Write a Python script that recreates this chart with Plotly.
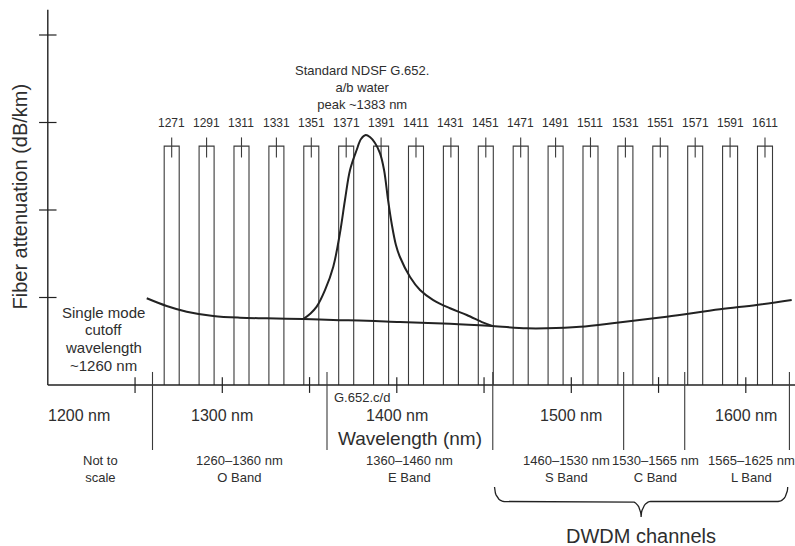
import numpy as np
import plotly.graph_objects as go

# ---------------- data ----------------
CHANNELS_NM = [1271, 1291, 1311, 1331, 1351, 1371, 1391, 1411, 1431, 1451,
               1471, 1491, 1511, 1531, 1551, 1571, 1591, 1611]
CHANNEL_HALF_WIDTH_NM = 4.3
CHANNEL_TOP = 2.73
CHANNEL_MARK = [2.6, 2.83]
CHANNEL_LABEL_Y = 2.99

# base attenuation curve (low-water-peak fibre, G.652.c/d)
BASE_WL = [1256.7, 1268.1, 1279.6, 1294.8, 1310.1, 1325.4, 1346.4, 1363.6,
           1382.8, 1401.8, 1430.5, 1454.7, 1474.4, 1485.9, 1505.0, 1526.0,
           1554.7, 1585.2, 1606.2, 1626.3]
BASE_ATT = [0.991, 0.903, 0.838, 0.789, 0.769, 0.762, 0.754, 0.743,
            0.735, 0.720, 0.700, 0.674, 0.648, 0.648, 0.666, 0.712,
            0.781, 0.865, 0.914, 0.971]

# water-peak branch (standard NDSF G.652.a/b)
PEAK_WL = [1346.4, 1350.4, 1354.1, 1358.9, 1363.6, 1367.4, 1370.3, 1373.2, 1377.0,
           1379.5, 1382.2, 1384.6, 1387.5, 1390.4, 1392.7, 1395.0, 1397.2,
           1399.5, 1401.8, 1407.6, 1413.3, 1420.9, 1430.5, 1440.1, 1449.6, 1454.7]
PEAK_ATT = [0.754, 0.815, 0.895, 1.086, 1.352, 1.734, 2.114, 2.457, 2.686,
            2.811, 2.857, 2.834, 2.766, 2.648, 2.457, 2.114, 1.829,
            1.600, 1.463, 1.234, 1.086, 0.971, 0.877, 0.800, 0.712, 0.674]

Y_TICKS = [1, 2, 3, 4]
Y_AXIS_TOP = 4.29
X_TICKS_NM = [1250, 1300, 1350, 1400, 1450, 1500, 1550, 1600]
X_AXIS_START_NM = 1200

WINDOW_LABELS = ["1200 nm", "1300 nm", "1400 nm", "1500 nm", "1600 nm"]
WINDOW_LABEL_NM = [1218, 1300, 1400, 1500, 1600]

BAND_EDGES_NM = [1260, 1360, 1455, 1530, 1565, 1625]
BAND_TEXT = ["Not to<br>scale", "1260–1360 nm<br>O Band", "1360–1460 nm<br>E Band",
             "1460–1530 nm<br>S Band", "1530–1565 nm<br>C Band", "1565–1625 nm<br>L Band"]
BAND_TEXT_NM = [1230, 1310, 1407, 1497, 1548, 1603]
DWDM_SPAN_NM = [1456, 1624]

# ---------------- page geometry (pixel <-> data) ----------------
W, H = 795, 546
PX_PER_NM = 1.745
X1200_PX = 47.8
PX_PER_UNIT = 87.5
Y0_PX = 385.0


def wl_at(px):
    return X_AXIS_START_NM + (px - X1200_PX) / PX_PER_NM


def att_at(py):
    return (Y0_PX - py) / PX_PER_UNIT


X_RANGE = [wl_at(0), wl_at(W)]
Y_RANGE = [att_at(H), att_at(0)]

INK = "#222222"
BOX = "#3a3a3a"
TXT = "#2e2e2e"
FONT = "Liberation Sans, Arial, Helvetica, sans-serif"

fig = go.Figure()


def seg_trace(xs, ys, color, width, shape="linear"):
    fig.add_trace(go.Scatter(x=xs, y=ys, mode="lines", hoverinfo="skip",
                             line=dict(color=color, width=width, shape=shape),
                             showlegend=False))


# channel boxes and centre marks
bx, by = [], []
mx, my = [], []
for c in CHANNELS_NM:
    l, r = c - CHANNEL_HALF_WIDTH_NM, c + CHANNEL_HALF_WIDTH_NM
    bx += [l, l, r, r, None]
    by += [0, CHANNEL_TOP, CHANNEL_TOP, 0, None]
    mx += [c, c, None]
    my += [CHANNEL_MARK[0], CHANNEL_MARK[1], None]
seg_trace(bx, by, BOX, 1.1)
seg_trace(mx, my, BOX, 1.1)

# axes
seg_trace([X_AXIS_START_NM, X_AXIS_START_NM], [0, Y_AXIS_TOP], INK, 1.4)
seg_trace([X_AXIS_START_NM, X_RANGE[1]], [0, 0], INK, 1.4)
tx, ty = [], []
for t in Y_TICKS:
    tx += [X_AXIS_START_NM - 5, X_AXIS_START_NM + 5, None]
    ty += [t, t, None]
for t in X_TICKS_NM:
    tx += [t, t, None]
    ty += [0.09, -0.09, None]
seg_trace(tx, ty, INK, 1.2)

# band boundary lines
ex, ey = [], []
for e in BAND_EDGES_NM:
    ex += [e, e, None]
    ey += [0.149, -0.743, None]
seg_trace(ex, ey, BOX, 1.1)

# attenuation curves
fig.add_trace(go.Scatter(x=BASE_WL, y=BASE_ATT, mode="lines", hoverinfo="skip",
                         line=dict(color=INK, width=2.0, shape="spline", smoothing=1.0),
                         showlegend=False))
fig.add_trace(go.Scatter(x=PEAK_WL, y=PEAK_ATT, mode="lines", hoverinfo="skip",
                         line=dict(color=INK, width=2.0, shape="spline", smoothing=1.0),
                         showlegend=False))

# curly brace under the DWDM bands
x0, x1 = DWDM_SPAN_NM
xc = (x0 + x1) / 2
y_top, y_mid, y_tip = att_at(487), att_at(501.5), att_at(517)
rx = 5.5
t = np.linspace(0, np.pi / 2, 12)
brx = list(x0 + rx * (1 - np.cos(t))) + list(xc - rx + rx * np.sin(t))
bry = list(y_top + (y_mid - y_top) * np.sin(t)) + list(y_mid + (y_tip - y_mid) * (1 - np.cos(t)))
brx2 = [2 * xc - v for v in brx[::-1]]
bry2 = bry[::-1]
seg_trace(brx + brx2, bry + bry2, INK, 1.3)

# ---------------- text ----------------
ann = []


def label(x, y, text, size, anchor="center", angle=0):
    ann.append(dict(x=x, y=y, xref="x", yref="y", text=text, showarrow=False,
                    xanchor=anchor, yanchor="middle", textangle=angle,
                    font=dict(family=FONT, size=size, color=TXT)))


for c in CHANNELS_NM:
    label(c, CHANNEL_LABEL_Y, str(c), 12)

label(wl_at(362), att_at(87.5), "Standard NDSF G.652.<br>a/b water<br>peak ~1383 nm", 13)

for i, line in enumerate(["Single mode", "cutoff", "wavelength", "~1260 nm"]):
    label(wl_at(103.3), att_at(312 + 17.7 * i), line, 15)

for txt, wl in zip(WINDOW_LABELS, WINDOW_LABEL_NM):
    label(wl, att_at(415), txt, 16)

label(wl_at(331.5), att_at(397), "G.652.c/d", 13, anchor="left")
label(wl_at(410), att_at(438.5), "Wavelength (nm)", 19)

for txt, wl in zip(BAND_TEXT, BAND_TEXT_NM):
    label(wl, att_at(468.5), txt, 13)

label(xc, att_at(535.5), "DWDM channels", 20)
label(wl_at(19), att_at(196.5), "Fiber attenuation (dB/km)", 20, angle=-90)

fig.update_layout(
    width=W, height=H,
    margin=dict(l=0, r=0, t=0, b=0, pad=0),
    paper_bgcolor="white", plot_bgcolor="white",
    xaxis=dict(range=X_RANGE, visible=False, fixedrange=True),
    yaxis=dict(range=Y_RANGE, visible=False, fixedrange=True),
    annotations=ann,
    showlegend=False,
)

fig.write_html("out.html", config={"displayModeBar": False, "staticPlot": True},
               post_script="document.body.style.margin='0';document.body.style.padding='0';")
